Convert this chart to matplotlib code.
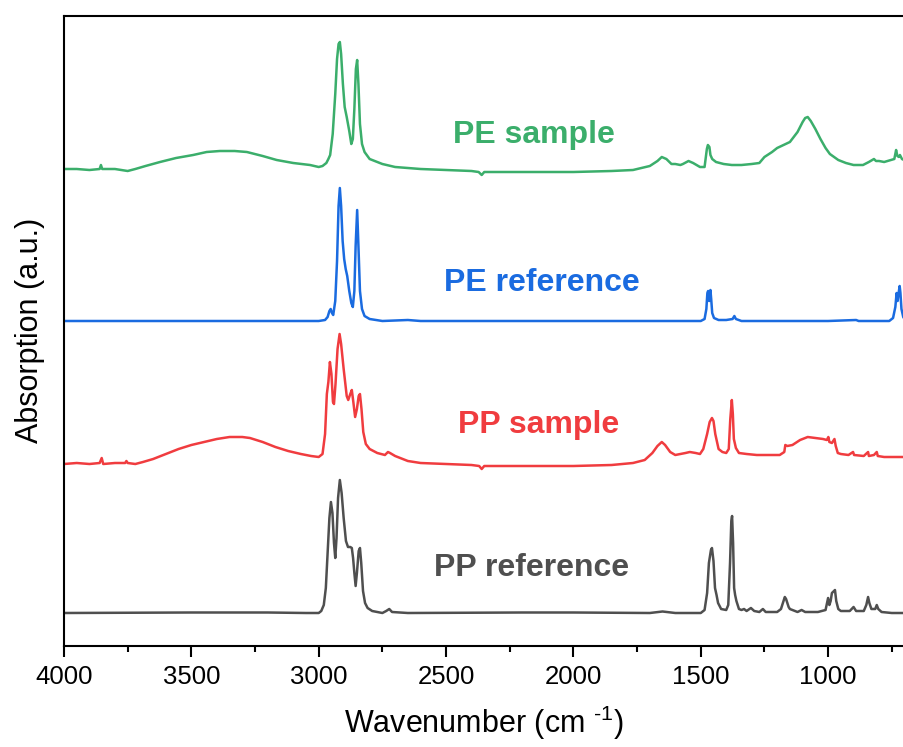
import numpy as np
import matplotlib
matplotlib.use("Agg")
import matplotlib.pyplot as plt
from matplotlib.ticker import MultipleLocator

plt.rcParams['font.family'] = ['Liberation Sans', 'DejaVu Sans']
plt.rcParams['mathtext.default'] = 'regular'

# FTIR spectra (wavenumber in cm-1, absorption above own baseline, a.u.)
pp_ref_wn = [4000, 3500, 3200, 3050, 3000, 2990, 2980, 2972, 2965, 2958, 2952, 2946, 2940, 2935,
             2930, 2924, 2917, 2910, 2902, 2893, 2885, 2876, 2870, 2865, 2860, 2855, 2850, 2843,
             2838, 2833, 2826, 2818, 2808, 2790, 2750, 2735, 2723, 2712, 2650, 2200, 2000, 1700,
             1650, 1600, 1500, 1485, 1475, 1468, 1460, 1456, 1450, 1444, 1438, 1432, 1420, 1400,
             1392, 1385, 1380, 1377, 1373, 1369, 1365, 1360, 1350, 1340, 1330, 1320, 1303, 1290,
             1270, 1256, 1245, 1200, 1185, 1170, 1165, 1155, 1150, 1120, 1104, 1090, 1040, 1010,
             1000, 995, 990, 985, 973, 968, 960, 950, 915, 900, 890, 860, 850, 843, 838, 830,
             815, 809, 803, 790, 750, 700]
pp_ref_ab = [0, 0.5, 0.5, 0, 0, 2, 8, 25, 60, 95, 111, 100, 70, 55,
             75, 115, 133, 120, 95, 72, 66, 66, 65, 55, 40, 27, 40, 62,
             65, 50, 22, 10, 5, 2, 0, 2, 4, 1, 0, 0.5, 0.5, 0,
             1.5, 0, 0, 3, 20, 50, 63, 65, 52, 25, 18, 10, 4, 3,
             8, 50, 92, 97, 70, 25, 18, 12, 4, 3, 4, 2, 5, 2,
             1, 4, 1, 1, 4, 16, 14, 6, 4, 1, 3, 1, 1, 3,
             15, 8, 12, 20, 23, 12, 4, 2, 2, 6, 2, 2, 8, 16, 10, 4,
             4, 8, 4, 1, 0, 0]

pp_smp_wn = [4000, 3950, 3900, 3860, 3852, 3846, 3800, 3760, 3755, 3750, 3720, 3690, 3650, 3600,
             3550, 3500, 3450, 3400, 3350, 3300, 3270, 3220, 3170, 3120, 3070, 3030, 3000, 2985,
             2975, 2968, 2962, 2956, 2950, 2944, 2940, 2934, 2926, 2918, 2912, 2902, 2890, 2884,
             2876, 2870, 2864, 2857, 2850, 2843, 2838, 2832, 2825, 2815, 2800, 2770, 2740, 2728,
             2720, 2700, 2650, 2600, 2500, 2400, 2370, 2360, 2350, 2300, 2100, 2000, 1850, 1766,
             1720, 1690, 1670, 1653, 1640, 1620, 1600, 1580, 1560, 1543, 1520, 1503, 1490, 1475,
             1465, 1456, 1450, 1443, 1430, 1415, 1400, 1390, 1384, 1378, 1374, 1370, 1362, 1350,
             1320, 1280, 1250, 1220, 1190, 1172, 1168, 1160, 1140, 1110, 1080, 1050, 1020, 1005,
             999, 995, 985, 975, 970, 962, 950, 920, 902, 898, 860, 843, 840, 820, 809, 805, 780, 700]
pp_smp_ab = [0, 1, 0, 1, 6, 0, 1, 1, 3, 1, 0, 2, 5, 10,
             15, 19, 22, 25, 27, 27, 26, 22, 17, 13, 10, 8, 7, 10,
             30, 70, 82, 102, 90, 62, 60, 80, 115, 130, 120, 95, 68, 64,
             70, 74, 62, 47, 55, 68, 70, 55, 32, 20, 15, 11, 9, 12,
             11, 8, 3, 1, 0, -1, -2, -5, -2, -2, -2, -2, -1, 1,
             4, 11, 18, 22, 19, 12, 9, 10, 11, 12, 11, 10, 15, 30,
             42, 46, 43, 30, 15, 12, 11, 15, 45, 64, 50, 25, 16, 11,
             10, 9, 9, 9, 9, 12, 19, 18, 19, 24, 27, 26, 25, 24,
             27, 22, 21, 25, 18, 11, 10, 9, 12, 9, 8, 12, 8, 9, 12, 8, 7, 7]

pe_ref_wn = [4000, 3000, 2975, 2965, 2958, 2953, 2948, 2943, 2935, 2928, 2922, 2917, 2912, 2906,
             2900, 2894, 2888, 2880, 2872, 2866, 2860, 2855, 2849, 2844, 2838, 2830, 2820, 2800,
             2750, 2650, 2600, 2000, 1600, 1500, 1485, 1478, 1474, 1471, 1467, 1464, 1462, 1459,
             1455, 1448, 1430, 1400, 1375, 1368, 1362, 1340, 1000, 890, 880, 760, 745, 736,
             731, 727, 722, 719, 716, 712, 705, 700]
pe_ref_ab = [0, 0, 1, 4, 10, 12, 8, 6, 20, 60, 115, 133, 115, 80,
             62, 52, 45, 30, 18, 14, 30, 75, 111, 75, 30, 12, 5, 2,
             0, 1, 0, 0, 0, 0, 2, 12, 28, 30, 20, 27, 31, 22,
             8, 3, 1, 1, 2, 5, 2, 0, 0, 1, 0, 0, 3, 14,
             28, 20, 30, 35, 28, 12, 4, 2]

pe_smp_wn = [4000, 3950, 3900, 3860, 3855, 3850, 3800, 3750, 3720, 3680, 3623, 3560, 3493, 3440,
             3388, 3330, 3282, 3220, 3165, 3100, 3034, 3000, 2985, 2970, 2962, 2955, 2945, 2935,
             2928, 2922, 2917, 2912, 2905, 2898, 2890, 2880, 2872, 2866, 2860, 2854, 2849, 2844,
             2838, 2830, 2820, 2800, 2750, 2700, 2600, 2500, 2400, 2372, 2360, 2350, 2300, 2100,
             2000, 1850, 1766, 1700, 1670, 1653, 1635, 1615, 1600, 1580, 1570, 1548, 1530, 1503,
             1485, 1476, 1472, 1466, 1462, 1455, 1440, 1410, 1378, 1340, 1300, 1270, 1250, 1220,
             1200, 1150, 1120, 1100, 1090, 1080, 1068, 1050, 1030, 1010, 993, 960, 930, 900,
             863, 840, 820, 812, 800, 780, 740, 733, 728, 722, 718, 710, 702]
pe_smp_ab = [0, 0, -1, 0, 4, 0, 0, -2, 0, 3, 7, 11, 14, 17,
             18, 18, 17, 13, 9, 6, 4, 2, 3, 6, 10, 14, 35, 75,
             110, 125, 127, 115, 85, 62, 52, 38, 25, 30, 60, 100, 109, 85,
             45, 25, 17, 10, 5, 2, 0, -1, -2, -3, -6, -3, -3, -3,
             -3, -2, -1, 3, 8, 12, 10, 5, 5, 4, 5, 8, 6, 2,
             2, 20, 24, 22, 14, 10, 7, 5, 4, 4, 5, 6, 12, 17,
             21, 27, 37, 47, 51, 52, 48, 40, 30, 21, 15, 9, 6, 4,
             4, 7, 10, 8, 8, 7, 10, 19, 13, 12, 14, 10, 9]

names = ['PP reference', 'PP sample', 'PE reference', 'PE sample']
wns = [pp_ref_wn, pp_smp_wn, pe_ref_wn, pe_smp_wn]
abss = [pp_ref_ab, pp_smp_ab, pe_ref_ab, pe_smp_ab]
offsets = [0.33, 1.82, 3.25, 4.77]
colors = ['#4F4F4F', '#F03C3F', '#1A6BE0', '#3BAE6B']
# label anchors (wavenumber, a.u.)
label_x = [2163, 2135, 2125, 2155]
label_y = [0.78, 2.21, 3.63, 5.11]

fig = plt.figure(figsize=(9.04, 7.47), dpi=100)
ax = fig.add_axes([64 / 904, 101 / 747, 840 / 904, 630.3 / 747])

for i in range(len(names)):
    x = np.array(wns[i], dtype=float)
    y = np.array(abss[i], dtype=float) / 100.0 + offsets[i]
    ax.plot(x, y, color=colors[i], lw=1.8, solid_joinstyle='round')
    ax.text(label_x[i], label_y[i], names[i], color=colors[i], fontsize=23,
            fontweight='bold', ha='center', va='center')

ax.set_xlim(4000, 702)
ax.set_ylim(0, 6.303)
ax.xaxis.set_major_locator(MultipleLocator(500))
ax.xaxis.set_minor_locator(MultipleLocator(250))
ax.tick_params(axis='x', which='major', direction='out', length=8, width=1.5,
               labelsize=18.5, pad=6, top=False)
ax.tick_params(axis='x', which='minor', direction='out', length=4, width=1.5, top=False)
ax.set_yticks([])
for s in ['left', 'bottom', 'top']:
    ax.spines[s].set_linewidth(1.5)
ax.spines['right'].set_visible(False)

ax.set_xlabel('Wavenumber (cm $^{\u2010 1}$)', fontsize=22, labelpad=10)
ax.set_ylabel('Absorption (a.u.)', fontsize=22, labelpad=14)

fig.savefig('out.png', dpi=100)
